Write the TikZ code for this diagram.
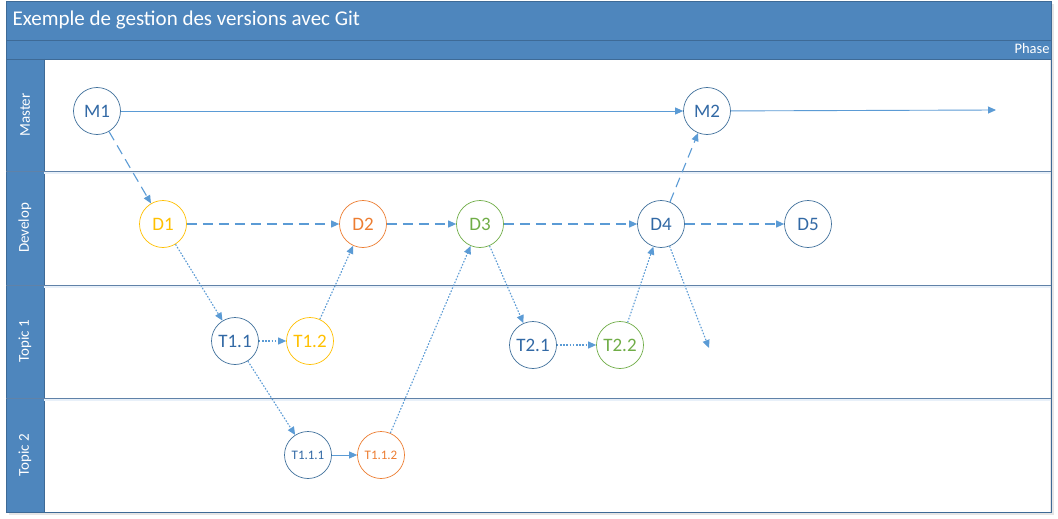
\documentclass[tikz,border=0pt]{standalone}
\usepackage{fontspec}
\setmainfont{Carlito}
\usetikzlibrary{arrows.meta, positioning}

\definecolor{hdrblue}{RGB}{78,134,189}
\definecolor{hdrline}{RGB}{62,106,150}
\definecolor{sepline}{RGB}{96,130,168}
\definecolor{shadeblue}{RGB}{232,240,249}
\definecolor{arrblue}{RGB}{91,155,213}
\definecolor{nodeblue}{RGB}{65,113,156}
\definecolor{txtblue}{RGB}{50,105,165}
\definecolor{cyellow}{RGB}{255,192,0}
\definecolor{corange}{RGB}{237,125,49}
\definecolor{cgreen}{RGB}{112,173,71}

\begin{document}
\begin{tikzpicture}[x=1pt, y=-1pt, >={Triangle[length=8pt, width=7pt]},
      commit/.style={circle, draw=nodeblue, fill=white, line width=0.7pt,
                     minimum size=47pt, inner sep=0pt, text=txtblue,
                     font=\fontsize{19}{19}\selectfont},
      small/.style={font=\fontsize{13}{13}\selectfont},
      yel/.style={draw=cyellow, text=cyellow},
      ora/.style={draw=corange, text=corange},
      gre/.style={draw=cgreen, text=cgreen},
      sol/.style={->, arrblue, line width=0.9pt},
      dsh/.style={->, arrblue, line width=1.1pt, dash pattern=on 10pt off 6pt},
      dot/.style={->, arrblue, line width=1.1pt, dash pattern=on 1.6pt off 1.6pt},
      lane/.style={rotate=90, text=white, font=\fontsize{15}{15}\selectfont}]

    \useasboundingbox (0,0) rectangle (1058,519);

    % ============================
    % FRAME: title, phase bar, lanes
    % ============================
    \fill[black!10] (9,4) rectangle (1054,515);
    \fill[hdrblue] (6,1) rectangle (1051,59);
    \fill[white] (44,59) rectangle (1050,512);
    \fill[hdrblue] (6,59) rectangle (44,512);
    \draw[hdrline, line width=0.8pt] (6,1) rectangle (1051,512);
    \draw[hdrline, line width=0.8pt] (6,40) -- (1051,40);
    \draw[hdrline, line width=0.8pt] (6,59) -- (1051,59);
    \draw[hdrline, line width=0.8pt] (44,59) -- (44,512);

    \node[anchor=west, text=white, font=\fontsize{21}{21}\selectfont] (title) at (9,20)
      {Exemple de gestion des versions avec Git};
    \node[anchor=east, text=white, font=\fontsize{14.5}{15}\selectfont] (phase) at (1053,49) {Phase};

    % lane separators (with a light shade below)
    \foreach \yy in {171, 285, 398} {
      \fill[shadeblue] (44,\yy) rectangle (1050,\yy+3);
      \draw[sepline, line width=0.9pt] (6,\yy) -- (1051,\yy);
    }

    % lane titles
    \node[lane] (lmaster)  at (25,115) {Master};
    \node[lane] (ldevelop) at (25,228) {Develop};
    \node[lane] (ltopic1)  at (25,341) {Topic 1};
    \node[lane] (ltopic2)  at (25,455) {Topic 2};

    % ============================
    % COMMITS
    % ============================
    \node[commit] (m1) at (97,111) {M1};
    \node[commit] (m2) at (707,111) {M2};

    \node[commit, yel] (d1) at (163,224) {D1};
    \node[commit, ora] (d2) at (363,224) {D2};
    \node[commit, gre] (d3) at (480,224) {D3};
    \node[commit]      (d4) at (661,224) {D4};
    \node[commit]      (d5) at (808,224) {D5};

    \node[commit]      (t11) at (235,341) {T1.1};
    \node[commit, yel] (t12) at (310,341) {T1.2};
    \node[commit]      (t21) at (533,345) {T2.1};
    \node[commit, gre] (t22) at (620,345) {T2.2};

    \node[commit, small]      (t111) at (308,455) {T1.1.1};
    \node[commit, small, ora] (t112) at (381,455) {T1.1.2};

    \coordinate (mend) at (996,110);
    \coordinate (d4end) at (709,348);

    % ============================
    % CONNECTORS
    % ============================
    % master line
    \draw[sol] (m1) -- (m2);
    \draw[sol] (m2) -- (mend);

    % develop line
    \draw[dsh] (m1) -- (d1);
    \draw[dsh] (d1) -- (d2);
    \draw[dsh] (d2) -- (d3);
    \draw[dsh] (d3) -- (d4);
    \draw[dsh] (d4) -- (d5);
    \draw[dsh] (d4) -- (m2);

    % topic branches
    \draw[dot] (d1) -- (t11);
    \draw[dot] (t11) -- (t12);
    \draw[dot] (t12) -- (d2);
    \draw[dot] (t11) -- (t111);
    \draw[sol] (t111) -- (t112);
    \draw[dot] (t112) -- (d3);
    \draw[dot] (d3) -- (t21);
    \draw[dot] (t21) -- (t22);
    \draw[dot] (t22) -- (d4);
    \draw[dot] (d4) -- (d4end);

\end{tikzpicture}
\end{document}
